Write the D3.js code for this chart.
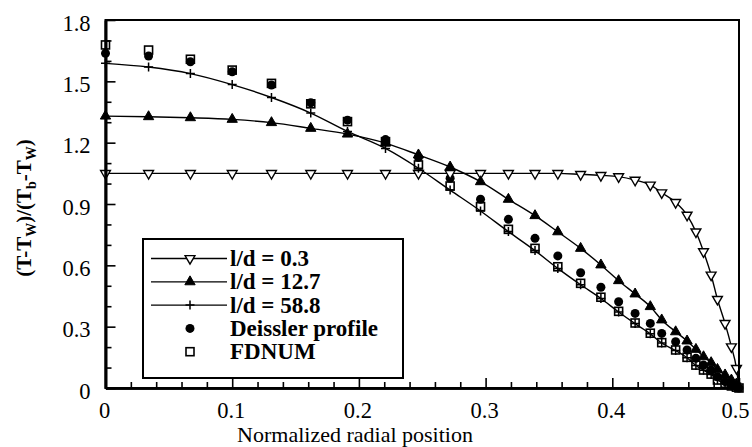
<!DOCTYPE html>
<html>
<head>
<meta charset="utf-8">
<script src="https://cdn.jsdelivr.net/npm/d3@7"></script>
<style>
  body { margin: 0; background: #fff; }
  svg { display: block; }
  text { font-family: "Liberation Serif", "Times New Roman", serif; fill: #000; }
</style>
</head>
<body>
<script>
// radial grid (normalized radial position)
var rPos = [0, 0.034, 0.067, 0.1, 0.131, 0.162, 0.191, 0.221, 0.247, 0.272, 0.296, 0.318, 0.339, 0.357,
  0.375, 0.391, 0.405, 0.418, 0.43, 0.439, 0.45, 0.459, 0.466, 0.472, 0.478, 0.483, 0.489, 0.494, 0.498, 0.5];

var ld03 = [1.05, 1.05, 1.05, 1.05, 1.05, 1.05, 1.05, 1.05, 1.05, 1.05, 1.05, 1.05, 1.05, 1.05,
  1.045, 1.04, 1.034, 1.017, 0.993, 0.955, 0.908, 0.846, 0.764, 0.667, 0.553, 0.434, 0.316, 0.202, 0.096, 0];
var ld127 = [1.33, 1.327, 1.322, 1.314, 1.298, 1.27, 1.242, 1.198, 1.14, 1.081, 1.009, 0.923, 0.843, 0.764,
  0.683, 0.602, 0.525, 0.46, 0.398, 0.333, 0.275, 0.23, 0.189, 0.153, 0.124, 0.091, 0.064, 0.039, 0.02, 0];
var ld588 = [1.588, 1.57, 1.538, 1.484, 1.421, 1.345, 1.255, 1.172, 1.075, 0.968, 0.866, 0.765, 0.672, 0.585,
  0.505, 0.438, 0.372, 0.315, 0.265, 0.22, 0.183, 0.148, 0.11, 0.087, 0.066, 0.04, 0.022, 0.01, 0.004, 0];
var deissler = [1.637, 1.624, 1.596, 1.547, 1.482, 1.395, 1.31, 1.215, 1.128, 1.026, 0.923, 0.825, 0.732, 0.646,
  0.564, 0.493, 0.422, 0.365, 0.316, 0.267, 0.226, 0.186, 0.145, 0.112, 0.088, 0.055, 0.031, 0.015, 0.005, 0];
var fdnum = [1.678, 1.653, 1.608, 1.555, 1.49, 1.39, 1.303, 1.205, 1.091, 0.988, 0.887, 0.776, 0.683, 0.593,
  0.512, 0.444, 0.375, 0.318, 0.268, 0.222, 0.186, 0.15, 0.112, 0.088, 0.068, 0.039, 0.023, 0.01, 0.004, 0];

var xTicks = [0, 0.1, 0.2, 0.3, 0.4, 0.5];
var yTicks = [0, 0.3, 0.6, 0.9, 1.2, 1.5, 1.8];
var legendLabels = ["l/d = 0.3", "l/d = 12.7", "l/d = 58.8", "Deissler profile", "FDNUM"];

(function() {
  var W = 752, H = 447;
  var plotL = 105.5, plotR = 739, plotT = 20, plotB = 388;

  var x = d3.scaleLinear().domain([0, 0.5]).range([plotL, plotR]);
  var y = d3.scaleLinear().domain([0, 1.8]).range([plotB, plotT]);

  var svg = d3.select("body").append("svg").attr("width", W).attr("height", H);

  function pts(vals) {
    return vals.map(function(v, i) { return [rPos[i], v]; });
  }

  var line = d3.line()
    .x(function(d) { return x(d[0]); })
    .y(function(d) { return y(d[1]); })
    .curve(d3.curveMonotoneX);

  // marker helpers
  function drawMarker(g, type, cx, cy) {
    if (type === "tdown") {
      g.append("path").attr("d", d3.symbol(d3.symbolTriangle, 42)())
        .attr("transform", "translate(" + cx + "," + cy + ") rotate(180)")
        .attr("fill", "#fff").attr("stroke", "#000").attr("stroke-width", 1.4);
    } else if (type === "tup") {
      g.append("path").attr("d", d3.symbol(d3.symbolTriangle, 46)())
        .attr("transform", "translate(" + cx + "," + cy + ")")
        .attr("fill", "#000").attr("stroke", "#000").attr("stroke-width", 1);
    } else if (type === "plus") {
      g.append("path").attr("d", "M-4.5,0H4.5M0,-4.5V4.5")
        .attr("transform", "translate(" + cx + "," + cy + ")")
        .attr("stroke", "#000").attr("stroke-width", 1.5).attr("fill", "none");
    } else if (type === "circle") {
      g.append("circle").attr("cx", cx).attr("cy", cy).attr("r", 4.5).attr("fill", "#000");
    } else if (type === "square") {
      g.append("rect").attr("x", cx - 4).attr("y", cy - 4).attr("width", 8).attr("height", 8)
        .attr("fill", "#fff").attr("stroke", "#000").attr("stroke-width", 1.6);
    }
  }

  var plot = svg.append("g");

  // FDNUM squares under the Deissler circles
  pts(fdnum).forEach(function(d) { drawMarker(plot, "square", x(d[0]), y(d[1])); });
  pts(deissler).forEach(function(d) { drawMarker(plot, "circle", x(d[0]), y(d[1])); });

  var series = [
    { vals: ld03, m: "tdown" },
    { vals: ld127, m: "tup" },
    { vals: ld588, m: "plus" }
  ];

  series.forEach(function(s) {
    plot.append("path").datum(pts(s.vals)).attr("d", line)
      .attr("fill", "none").attr("stroke", "#000").attr("stroke-width", 1.4);
  });
  series.forEach(function(s) {
    pts(s.vals).slice(0, -1).forEach(function(d) { drawMarker(plot, s.m, x(d[0]), y(d[1])); });
  });

  // frame
  svg.append("rect").attr("x", plotL).attr("y", plotT).attr("width", plotR - plotL).attr("height", plotB - plotT)
    .attr("fill", "none").attr("stroke", "#000").attr("stroke-width", 2);

  // axes
  var fmt = function(d) { return d === 0 ? "0" : d3.format(".1f")(d); };
  var xAxis = d3.axisBottom(x).tickValues(xTicks).tickSizeInner(-10).tickSizeOuter(0).tickPadding(14).tickFormat(fmt);
  var xMinor = d3.axisBottom(x)
    .tickValues(d3.range(1, 25).filter(function(i) { return i % 5 !== 0; }).map(function(i) { return i * 0.02; }))
    .tickSizeInner(-6).tickSizeOuter(0).tickFormat("");
  var yAxis = d3.axisLeft(y).tickValues(yTicks).tickSizeInner(-10).tickSizeOuter(0).tickPadding(15).tickFormat(fmt);
  var yMinor = d3.axisLeft(y)
    .tickValues(d3.range(1, 18).filter(function(i) { return i % 3 !== 0; }).map(function(i) { return i * 0.1; }))
    .tickSizeInner(-6).tickSizeOuter(0).tickFormat("");

  function styleAxis(g) {
    g.select(".domain").attr("stroke", "#000").attr("stroke-width", 2.6);
    g.selectAll(".tick line").attr("stroke", "#000").attr("stroke-width", 1.6);
    g.selectAll(".tick text").attr("font-size", 22.5).attr("font-family", "Liberation Serif, serif").attr("fill", "#000");
  }

  svg.append("g").attr("transform", "translate(0," + plotB + ")").call(xMinor).call(styleAxis);
  svg.append("g").attr("transform", "translate(0," + plotB + ")").call(xAxis).call(styleAxis)
    .selectAll(".tick text").attr("dx", function(d) { return d === 0.5 ? -4 : -1.5; });
  svg.append("g").attr("transform", "translate(" + plotL + ",0)").call(yMinor).call(styleAxis);
  svg.append("g").attr("transform", "translate(" + plotL + ",0)").call(yAxis).call(styleAxis)
    .selectAll(".tick text").attr("dy", "0.45em");

  // axis titles
  svg.append("text").attr("x", 355).attr("y", 442.3).attr("text-anchor", "middle")
    .attr("font-size", 22).text("Normalized radial position");

  var yt = svg.append("text").attr("transform", "translate(31,208) rotate(-90)")
    .attr("text-anchor", "middle").attr("font-size", 21).attr("font-weight", "bold");
  yt.append("tspan").text("(T-T");
  yt.append("tspan").attr("font-size", 14).attr("dy", 5).text("W");
  yt.append("tspan").attr("dy", -5).text(")/(T");
  yt.append("tspan").attr("font-size", 14).attr("dy", 5).text("b");
  yt.append("tspan").attr("dy", -5).text("-T");
  yt.append("tspan").attr("font-size", 14).attr("dy", 5).text("W");
  yt.append("tspan").attr("dy", -5).text(")");

  // legend
  var lg = svg.append("g");
  lg.append("rect").attr("x", 143).attr("y", 239).attr("width", 260).attr("height", 139)
    .attr("fill", "#fff").attr("stroke", "#000").attr("stroke-width", 2);
  var legendMarks = ["tdown", "tup", "plus", "circle", "square"];
  legendLabels.forEach(function(lab, i) {
    var cy = 258.5 + i * 23.3;
    if (i < 3) {
      lg.append("line").attr("x1", 151).attr("x2", 227).attr("y1", cy).attr("y2", cy)
        .attr("stroke", "#000").attr("stroke-width", 1.3);
    }
    drawMarker(lg, legendMarks[i], 190, cy);
    lg.append("text").attr("x", 230).attr("y", cy + 7.5).attr("font-size", 23).attr("font-weight", "bold").text(lab);
  });
})();
</script>
</body>
</html>
